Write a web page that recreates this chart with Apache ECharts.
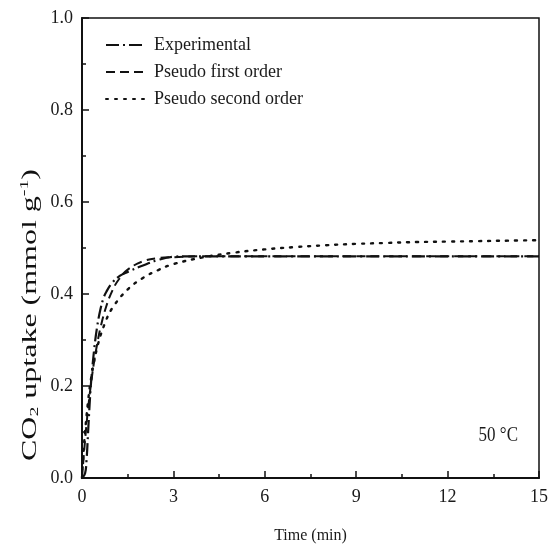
<!DOCTYPE html>
<html>
<head>
<meta charset="utf-8">
<script src="https://cdn.jsdelivr.net/npm/echarts@6/dist/echarts.min.js"></script>
<style>html,body{margin:0;padding:0;background:#fff}#c{width:551px;height:550px}</style>
</head>
<body>
<div id="c"></div>
<script>
var expTime = [0, 0.1, 0.15, 0.2, 0.25, 0.3, 0.4, 0.5, 0.6, 0.7, 0.8, 1.0, 1.25, 1.5, 2.0, 2.5, 3.0, 3.5, 4, 6, 9, 12, 15];
var expValues = [0, 0.01, 0.04, 0.1, 0.16, 0.21, 0.28, 0.33, 0.365, 0.39, 0.405, 0.425, 0.44, 0.448, 0.462, 0.474, 0.481, 0.482, 0.482, 0.482, 0.482, 0.482, 0.482];

var pfoTime = [0, 0.1, 0.2, 0.3, 0.4, 0.5, 0.6, 0.8, 1.0, 1.2, 1.5, 2.0, 2.5, 3.0, 4, 6, 9, 12, 15];
var pfoValues = [0, 0.082, 0.151, 0.207, 0.254, 0.292, 0.325, 0.374, 0.408, 0.431, 0.453, 0.471, 0.478, 0.480, 0.482, 0.482, 0.482, 0.482, 0.482];

var psoTime = [0, 0.05, 0.1, 0.2, 0.3, 0.5, 0.75, 1.0, 1.5, 2.0, 2.5, 3.0, 4, 5, 6, 7, 8, 9, 10, 11, 12, 13, 14, 15];
var psoValues = [0, 0.055, 0.1, 0.167, 0.217, 0.284, 0.336, 0.37, 0.41, 0.435, 0.452, 0.465, 0.48, 0.49, 0.497, 0.502, 0.506, 0.509, 0.511, 0.513, 0.514, 0.515, 0.516, 0.517];

var seriesNames = ['Experimental', 'Pseudo first order', 'Pseudo second order'];
var xTicks = [0, 3, 6, 9, 12, 15];
var yTicks = [0.0, 0.2, 0.4, 0.6, 0.8, 1.0];
var tempLabel = '50 °C';
var yTitleParts = ['CO', '2', ' uptake (mmol g', '-1', ')'];

function pairs(t, v) { return t.map(function (x, i) { return [x, v[i]]; }); }

var font = 'Liberation Serif';
var titleSize = 21, subSize = 13;
var cv = document.createElement('canvas').getContext('2d');
function w(txt, size) { cv.font = size + 'px "' + font + '"'; return cv.measureText(txt).width; }
var titleLen = w(yTitleParts[0], titleSize) + w(yTitleParts[1], subSize) + w(yTitleParts[2], titleSize) + w(yTitleParts[3], subSize) + w(yTitleParts[4], titleSize);
var targetLen = 292;
var stretch = targetLen / titleLen;

var chart = echarts.init(document.getElementById('c'));
chart.setOption({
  animation: false,
  backgroundColor: '#fff',
  grid: { left: 82, right: 12, top: 18, bottom: 72, show: true, borderColor: '#111', borderWidth: 1.5, backgroundColor: 'transparent' },
  legend: {
    data: seriesNames,
    orient: 'vertical',
    left: 100,
    top: 31,
    itemWidth: 40,
    itemHeight: 14,
    itemGap: 9,
    itemStyle: { opacity: 0, borderWidth: 0 },
    textStyle: { fontFamily: font, fontSize: 18, color: '#1a1a1a', padding: [0, 0, 0, 3] }
  },
  xAxis: {
    type: 'value', min: xTicks[0], max: xTicks[xTicks.length - 1], interval: 3,
    name: 'Time (min)', nameLocation: 'middle', nameGap: 50,
    nameTextStyle: { fontFamily: font, fontSize: 16, color: '#1a1a1a' },
    axisLine: { show: true, onZero: false, lineStyle: { color: '#111', width: 2 } },
    axisTick: { show: true, inside: true, length: 7, lineStyle: { color: '#111', width: 1.5 } },
    minorTick: { show: true, splitNumber: 2, length: 4, lineStyle: { color: '#111', width: 1.5 } },
    axisLabel: { fontFamily: font, fontSize: 18, color: '#1a1a1a', margin: 10 },
    splitLine: { show: false }
  },
  yAxis: {
    type: 'value', min: yTicks[0], max: yTicks[yTicks.length - 1], interval: 0.2,
    axisLine: { show: true, onZero: false, lineStyle: { color: '#111', width: 2 } },
    axisTick: { show: true, inside: true, length: 7, lineStyle: { color: '#111', width: 1.5 } },
    minorTick: { show: true, splitNumber: 2, length: 4, lineStyle: { color: '#111', width: 1.5 } },
    axisLabel: { fontFamily: font, fontSize: 18, color: '#1a1a1a', margin: 9, formatter: function (v) { return v.toFixed(1); } },
    splitLine: { show: false }
  },
  series: [
    { name: seriesNames[0], type: 'line', data: pairs(expTime, expValues), smooth: 0.4, symbol: 'none', showSymbol: false,
      lineStyle: { color: '#111', width: 2.2, type: [13, 4, 2, 4] }, itemStyle: { color: '#111' }, z: 3 },
    { name: seriesNames[1], type: 'line', data: pairs(pfoTime, pfoValues), smooth: 0.4, symbol: 'none', showSymbol: false,
      lineStyle: { color: '#111', width: 2, type: [9, 5] }, itemStyle: { color: '#111' }, z: 2 },
    { name: seriesNames[2], type: 'line', data: pairs(psoTime, psoValues), smooth: 0.4, symbol: 'none', showSymbol: false,
      lineStyle: { color: '#111', width: 2.4, type: [2, 7], cap: 'round' }, itemStyle: { color: '#111' }, z: 1 }
  ],
  graphic: [
    { type: 'text', x: 518, y: 435, scaleY: 1.25,
      style: { text: tempLabel, fontFamily: font, fontSize: 17, fill: '#1a1a1a', align: 'right', verticalAlign: 'middle' } },
    { type: 'text', x: 30, y: 315, rotation: Math.PI / 2, scaleX: stretch,
      style: {
        text: '{n|' + yTitleParts[0] + '}{s|' + yTitleParts[1] + '}{n|' + yTitleParts[2] + '}{p|' + yTitleParts[3] + '}{n|' + yTitleParts[4] + '}',
        align: 'center', verticalAlign: 'middle',
        rich: {
          n: { fontFamily: font, fontSize: titleSize, fill: '#111', color: '#111' },
          s: { fontFamily: font, fontSize: subSize, fill: '#111', color: '#111', verticalAlign: 'bottom', padding: [10, 0, 0, 0] },
          p: { fontFamily: font, fontSize: subSize, fill: '#111', color: '#111', verticalAlign: 'top', padding: [0, 0, 10, 0] }
        }
      } }
  ]
});
</script>
</body>
</html>
